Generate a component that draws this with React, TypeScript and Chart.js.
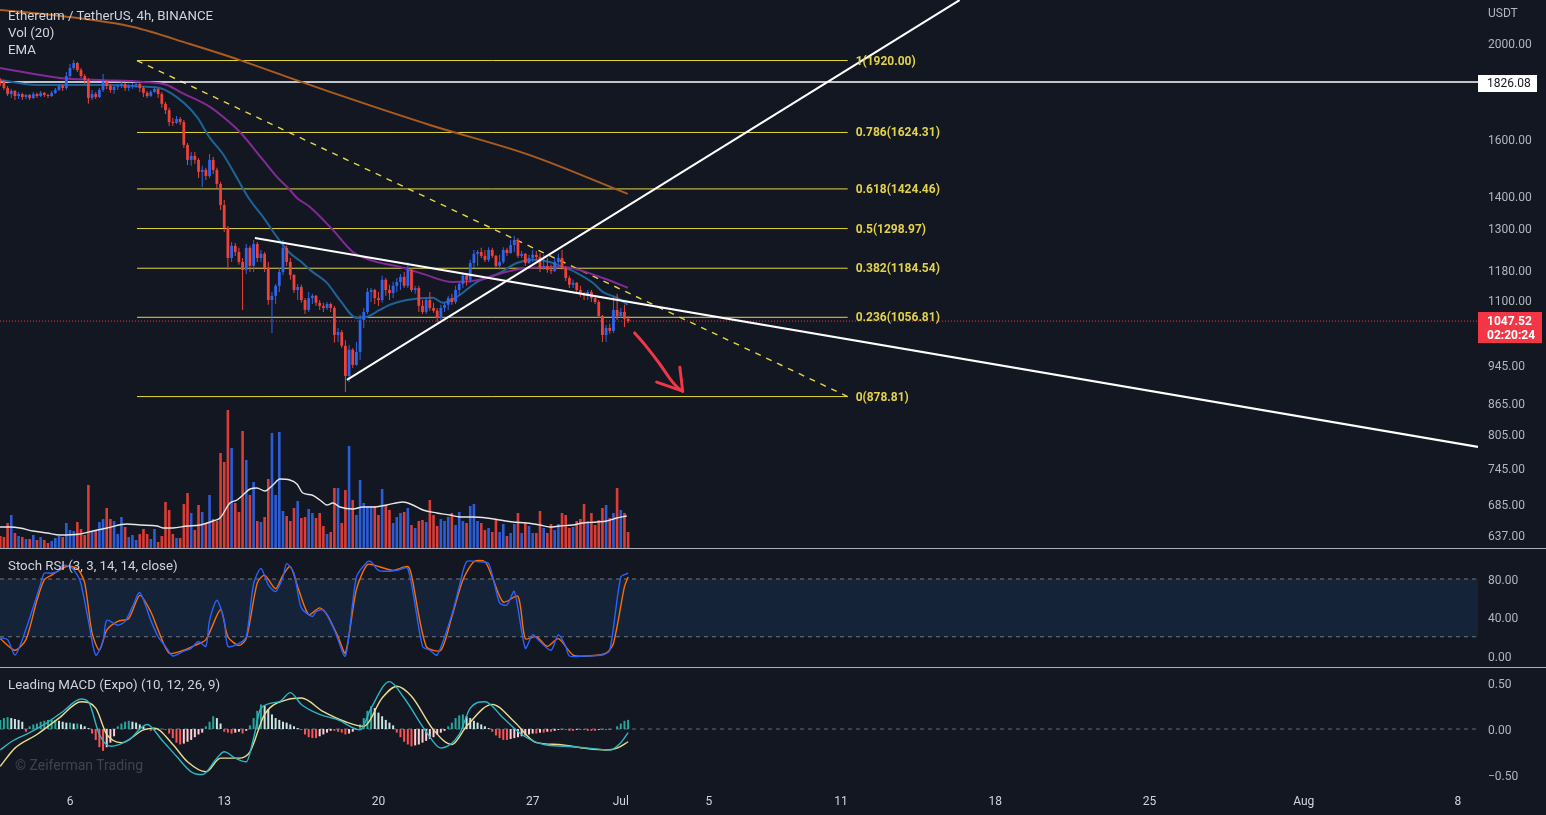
import React, { useEffect, useRef } from 'react';
import { Chart, registerables } from 'chart.js';

Chart.register(...registerables);

// ---------------- style ----------------
const FONT = 'Roboto, "Noto Sans", "DejaVu Sans", sans-serif';
const BG = '#131722';
const TEXT = '#d1d4dc';
const AXIS_TEXT = '#b2b5be';
const UP = '#2f65ea';
const DOWN = '#ef4137';
const UP_VOL = 'rgba(47,101,234,0.9)';
const DOWN_VOL = 'rgba(239,65,55,0.9)';
const FIB_LINE = 'rgba(240,226,70,0.95)';
const FIB_TEXT = '#e2d24b';
const SEP = 'rgba(209,212,220,0.8)';
const AXIS_W = 68;

// ---------------- data ----------------
// time axis in "day of June" (Jul 1 = 31, Aug 1 = 62)
const X_MIN = 2.822;
const X_MAX = 69.91;
const X_TICKS = [6, 13, 20, 27, 31, 35, 41, 48, 55, 62, 69];
const X_TICK_LABELS = ['6', '13', '20', '27', 'Jul', '5', '11', '18', '25', 'Aug', '8'];

const PRICE_MIN = 617.98;
const PRICE_MAX = 2210.3;
const PRICE_TICKS = [637, 685, 745, 805, 865, 945, 1100, 1180, 1300, 1400, 1600, 2000];
const STOCH_MIN = -11.43;
const STOCH_MAX = 111.17;
const STOCH_TICKS = [0, 40, 80];
const MACD_MIN = -0.626;
const MACD_MAX = 0.67;
const MACD_TICKS = [-0.5, 0, 0.5];
const VOL_MAX = 1644;

const FIRST_CANDLE_DAY = 2 + 20 / 24; // Jun 2, 20:00
const CANDLE_HOURS = 4;
const FIRST_OPEN = 1835;

const CLOSES = [
  1827, 1801, 1776, 1789, 1768, 1776, 1764, 1772, 1760, 1776,
  1768, 1781, 1772, 1768, 1781, 1793, 1810, 1801, 1852, 1887,
  1909, 1878, 1852, 1835, 1760, 1776, 1764, 1793, 1827, 1810,
  1793, 1806, 1810, 1818, 1801, 1810, 1814, 1818, 1801, 1781,
  1768, 1785, 1797, 1776, 1736, 1711, 1664, 1661, 1676, 1664,
  1578, 1524, 1538, 1524, 1482, 1489, 1468, 1524, 1489, 1441,
  1372, 1301, 1213, 1248, 1230, 1202, 1180, 1242, 1191, 1253,
  1213, 1225, 1185, 1100, 1111, 1137, 1174, 1242, 1202, 1166,
  1126, 1134, 1100, 1075, 1105, 1111, 1093, 1085, 1080, 1090,
  1080, 1014, 1021, 989, 922, 980, 946, 975, 1050, 1070,
  1121, 1126, 1105, 1100, 1153, 1126, 1118, 1137, 1147, 1161,
  1137, 1180, 1126, 1131, 1085, 1070, 1100, 1080, 1073, 1055,
  1080, 1088, 1105, 1095, 1126, 1142, 1164, 1153, 1199, 1225,
  1230, 1219, 1208, 1236, 1219, 1191, 1202, 1236, 1227, 1250,
  1265, 1219, 1225, 1199, 1213, 1222, 1216, 1185, 1191, 1180,
  1177, 1202, 1213, 1185, 1158, 1140, 1145, 1126, 1116, 1111,
  1121, 1105, 1095, 1060, 1014, 1031, 1024, 1075, 1060, 1070,
  1053, 1047.52,
];
const HIGHS = [
  1844, 1835, 1810, 1797, 1793, 1785, 1781, 1776, 1776, 1785,
  1781, 1789, 1785, 1776, 1789, 1801, 1818, 1818, 1870, 1905,
  1922, 1914, 1887, 1861, 1844, 1793, 1785, 1801, 1861, 1835,
  1818, 1814, 1818, 1827, 1822, 1818, 1822, 1827, 1822, 1810,
  1789, 1793, 1806, 1801, 1785, 1744, 1720, 1680, 1688, 1684,
  1672, 1585, 1552, 1552, 1531, 1503, 1496, 1545, 1534, 1496,
  1448, 1388, 1307, 1259, 1256, 1242, 1213, 1253, 1248, 1265,
  1259, 1236, 1230, 1202, 1121, 1142, 1185, 1265, 1248, 1213,
  1169, 1142, 1140, 1105, 1121, 1116, 1113, 1100, 1093, 1095,
  1093, 1085, 1031, 1026, 1002, 991, 984, 998, 1063, 1080,
  1131, 1131, 1129, 1121, 1164, 1158, 1140, 1148, 1158, 1169,
  1174, 1202, 1185, 1137, 1137, 1100, 1105, 1121, 1093, 1080,
  1088, 1095, 1111, 1116, 1137, 1147, 1169, 1169, 1208, 1236,
  1236, 1242, 1236, 1244, 1242, 1222, 1222, 1244, 1242, 1265,
  1277, 1271, 1233, 1227, 1222, 1236, 1233, 1227, 1222, 1213,
  1194, 1213, 1225, 1236, 1191, 1164, 1153, 1147, 1137, 1121,
  1126, 1126, 1111, 1100, 1063, 1038, 1041, 1111, 1116, 1080,
  1088, 1060,
];
const LOWS = [
  1810, 1793, 1768, 1760, 1752, 1756, 1752, 1756, 1752, 1756,
  1760, 1764, 1764, 1760, 1764, 1776, 1789, 1789, 1793, 1844,
  1878, 1870, 1844, 1818, 1736, 1752, 1756, 1760, 1785, 1797,
  1781, 1776, 1793, 1801, 1789, 1789, 1797, 1801, 1785, 1764,
  1760, 1764, 1781, 1760, 1720, 1696, 1649, 1649, 1657, 1653,
  1567, 1506, 1503, 1510, 1461, 1431, 1454, 1461, 1475, 1427,
  1356, 1289, 1180, 1202, 1219, 1194, 1075, 1169, 1174, 1174,
  1202, 1202, 1174, 1088, 1019, 1090, 1121, 1166, 1191, 1153,
  1118, 1100, 1093, 1065, 1070, 1090, 1085, 1075, 1070, 1075,
  1070, 996, 998, 984, 888, 909, 939, 944, 957, 1031,
  1065, 1095, 1090, 1085, 1093, 1111, 1100, 1105, 1121, 1126,
  1131, 1131, 1121, 1116, 1070, 1065, 1065, 1073, 1068, 1045,
  1050, 1070, 1075, 1088, 1090, 1111, 1131, 1137, 1145, 1185,
  1191, 1213, 1202, 1202, 1213, 1185, 1180, 1197, 1219, 1225,
  1230, 1213, 1213, 1191, 1197, 1202, 1208, 1174, 1180, 1172,
  1169, 1174, 1197, 1180, 1150, 1131, 1131, 1116, 1108, 1100,
  1100, 1095, 1090, 1055, 998, 998, 1017, 1019, 1050, 1055,
  1033, 1043,
];
// volume, thousand ETH
const VOLUMES = [
  36, 33, 75, 99, 45, 36, 33, 27, 27, 39,
  24, 33, 24, 15, 21, 30, 36, 33, 75, 54,
  51, 78, 57, 39, 189, 51, 54, 78, 87, 120,
  87, 81, 42, 93, 63, 33, 39, 24, 42, 57,
  42, 27, 57, 18, 36, 138, 114, 42, 30, 30,
  132, 165, 105, 54, 129, 108, 75, 159, 87, 81,
  285, 258, 414, 300, 135, 108, 351, 264, 159, 198,
  81, 78, 93, 207, 345, 159, 348, 111, 96, 81,
  120, 141, 90, 93, 117, 105, 90, 105, 66, 42,
  48, 180, 180, 75, 174, 306, 144, 99, 204, 135,
  126, 126, 126, 99, 177, 129, 114, 75, 93, 105,
  108, 120, 69, 60, 81, 84, 78, 144, 99, 66,
  87, 81, 93, 105, 69, 108, 81, 75, 126, 132,
  81, 75, 54, 60, 48, 84, 48, 72, 36, 45,
  72, 105, 45, 75, 66, 45, 45, 111, 60, 45,
  72, 54, 72, 105, 99, 60, 63, 81, 87, 132,
  81, 105, 69, 84, 120, 129, 90, 105, 180, 114,
  105, 48,
];
const VOL_MA_DAYS = [
  2.82, 3.28, 3.73, 4.32, 4.96, 5.55, 6.45, 7.04, 7.68, 8.59, 9.18, 9.95, 10.22, 10.67, 11.31,
  11.9, 12.49, 12.81, 13.26, 13.58, 13.85, 14.17, 14.48, 14.85, 15.21, 15.53, 15.98, 16.3, 16.57,
  16.98, 17.34, 17.66, 17.93, 18.25, 18.84, 19.29, 19.75, 20.38, 21.11, 21.56, 22.02, 22.65, 23.24,
  23.7, 24.28, 24.92, 25.51, 26.1, 26.73, 27.32, 27.78, 28.23, 28.82, 29.28, 29.91, 30.36, 30.82, 31.27,
];
const VOL_MA = [
  63, 63, 60, 51, 45, 39, 42, 51, 60, 72, 69, 66, 60, 60, 66,
  69, 81, 90, 135, 144, 159, 177, 180, 171, 189, 207, 204, 192, 165,
  159, 144, 129, 135, 123, 117, 123, 123, 129, 138, 129, 114, 105, 99,
  93, 93, 90, 84, 78, 75, 69, 63, 66, 69, 75, 78, 81, 90, 96,
];

const EMA_FAST_DAYS = [
  2.82, 4.49, 6.16, 7.82, 9.49, 10.08, 11.17, 11.76, 12.35, 12.94, 13.58, 14.17, 14.76, 15.39, 15.98,
  16.44, 16.89, 17.66, 18.25, 19.02, 19.48, 20.06, 20.52, 21.29, 22.47, 22.92, 23.56, 24.47, 25.51,
  26.28, 27.01, 27.78, 28.37, 29.0, 29.73, 30.18, 30.82, 31.32,
];
const EMA_FAST = [
  1835, 1814, 1814, 1814, 1806, 1801, 1740, 1684, 1604, 1545, 1461, 1388, 1335, 1274, 1227,
  1205, 1180, 1145, 1100, 1055, 1058, 1075, 1088, 1100, 1106, 1093, 1108, 1147, 1172,
  1199, 1208, 1202, 1188, 1172, 1145, 1121, 1106, 1088,
];
const EMA_MID_DAYS = [
  2.82, 5.55, 7.36, 9.31, 10.4, 10.99, 12.35, 13.12, 13.71, 14.76, 15.39, 15.98, 16.3, 16.89,
  17.93, 18.84, 19.75, 20.97, 22.02, 23.38, 24.6, 25.82, 26.87, 28.37, 30.18, 31.32,
];
const EMA_MID = [
  1887, 1844, 1835, 1827, 1814, 1785, 1724, 1672, 1626, 1524, 1465, 1421, 1395, 1366,
  1295, 1230, 1205, 1188, 1169, 1147, 1153, 1175, 1186, 1188, 1158, 1132,
];
const EMA_SLOW_DAYS = [2.82, 5.55, 8.86, 11.44, 13.71, 15.98, 17.8, 22.33, 26.87, 31.32];
const EMA_SLOW = [2160, 2130, 2076, 1995, 1922, 1844, 1785, 1653, 1541, 1408];

const FIB_RATIOS = ['1', '0.786', '0.618', '0.5', '0.382', '0.236', '0'];
const FIB_LEVELS = [1920.0, 1624.31, 1424.46, 1298.97, 1184.54, 1056.81, 878.81];
const FIB_START_DAY = 9.04;
const FIB_END_DAY = 41.3;
const FIB_LABEL_DAY = 41.66;

const DIAG_DAYS = [9.04, 41.3];
const DIAG_PRICES = [1920, 878.81];
const TREND_UP_DAYS = [18.57, 46.38];
const TREND_UP_PRICES = [913.5, 2210];
const TREND_DOWN_DAYS = [14.39, 69.91];
const TREND_DOWN_PRICES = [1271, 781.8];

const ARROW_DAYS = [31.63, 32.18, 32.77, 33.22, 33.59, 33.81];
const ARROW_PRICES = [1019, 986, 948, 917, 897, 890];
const ARROW_HEAD_L_DAYS = [32.63, 33.81];
const ARROW_HEAD_L_PRICES = [909, 890];
const ARROW_HEAD_R_DAYS = [33.68, 33.81];
const ARROW_HEAD_R_PRICES = [941, 890];

const MARK_PRICE = 1826.08;
const LAST_PRICE = 1047.52;
const COUNTDOWN = '02:20:24';

// Stoch RSI (candle index, value)
const STOCH_K_IDX = [
  0, 2, 4, 6, 9, 11, 12, 14, 16, 17, 19, 21, 22, 24, 26, 28, 29, 32, 34, 36, 38, 41, 43, 45, 47,
  50, 52, 54, 56, 57, 59, 61, 62, 65, 67, 69, 71, 73, 75, 77, 78, 80, 82, 85, 86, 88, 91, 94, 97, 100,
  101, 103, 106, 108, 111, 115, 117, 119, 123, 125, 127, 130, 133, 136, 138, 140, 143, 145, 147, 150,
  152, 154, 155, 159, 164, 166, 169, 171,
];
const STOCH_K = [
  19, 17, 1, 17, 51, 75, 86, 86, 89, 94, 93, 84, 75, 37, 1, 15, 37, 32, 36, 51, 66, 37, 20, 10, 0,
  5, 8, 15, 10, 37, 58, 37, 10, 13, 20, 75, 91, 74, 67, 82, 96, 86, 50, 41, 46, 48, 27, 0, 82, 98,
  98, 89, 88, 89, 91, 10, 6, 1, 43, 72, 98, 98, 96, 55, 53, 67, 8, 22, 15, 6,
  22, 10, 0, 0, 1, 6, 82, 86,
];
const STOCH_D_IDX = [
  0, 4, 7, 10, 12, 14, 18, 21, 23, 25, 27, 29, 32, 35, 38, 41, 43, 46, 50, 53, 56, 60, 62, 65, 67,
  70, 72, 75, 77, 79, 81, 84, 87, 89, 92, 94, 97, 100, 103, 107, 111, 112, 116, 120, 123, 126, 129,
  132, 134, 137, 141, 143, 146, 149, 152, 156, 160, 165, 167, 170, 171,
];
const STOCH_D = [
  18, 6, 17, 58, 79, 84, 93, 91, 76, 24, 6, 27, 36, 39, 63, 46, 27, 3, 6, 11, 17, 48, 20, 11, 18,
  76, 84, 70, 84, 93, 72, 43, 50, 43, 20, 3, 69, 95, 93, 89, 93, 84, 10, 6, 41, 79, 98,
  98, 82, 56, 62, 18, 20, 10, 18, 1, 0, 3, 13, 72, 82,
];

// Leading MACD
const MACD_HIST = [
  0.1, 0.12, 0.13, 0.12, 0.11, 0.1, 0.08,
  -0.03,
  0.03, 0.05, 0.06, 0.08,
  0.09, 0.1, 0.1, 0.1, 0.09,
  0.08, 0.07, 0.07, 0.06, 0.06, 0.05,
  0.03, 0.01,
  -0.05, -0.12, -0.2, -0.24, -0.2, -0.15, -0.08,
  0.03, 0.06, 0.08, 0.09, 0.08, 0.07, 0.05, 0.03,
  -0.01, -0.02, -0.01, 0.01, 0.0, -0.01,
  -0.05, -0.1, -0.15, -0.17, -0.16, -0.14, -0.12, -0.09, -0.06, -0.04,
  0.03, 0.08, 0.14, 0.12, 0.06,
  -0.03, -0.04,
  -0.05, -0.04, -0.03, -0.05, -0.02,
  0.04, 0.12, 0.2, 0.27, 0.26, 0.22,
  0.16, 0.12, 0.1, 0.08, 0.07, 0.05, 0.03,
  0.01, -0.01,
  -0.06, -0.09, -0.1, -0.1, -0.08, -0.06, -0.04,
  -0.02, -0.02, -0.03, -0.04, -0.06, -0.05, -0.03, -0.01,
  0.05, 0.12, 0.2, 0.25, 0.23, 0.18,
  0.14, 0.1, 0.07, 0.04,
  -0.04, -0.09, -0.14, -0.17, -0.19, -0.18, -0.17, -0.15, -0.13, -0.11, -0.09, -0.06, -0.04, -0.02,
  0.03, 0.07, 0.12, 0.15, 0.16, 0.14, 0.12, 0.09, 0.07, 0.05, 0.03, 0.01,
  -0.03, -0.07, -0.1, -0.12, -0.12, -0.11, -0.1, -0.09, -0.08, -0.07, -0.06, -0.05, -0.05, -0.04, -0.04, -0.03, -0.03, -0.02,
  -0.01, -0.01, -0.01, -0.02, -0.02, -0.01, -0.01, -0.01, -0.02, -0.02, -0.02, -0.01, -0.01, -0.01, -0.01, 0.0,
  0.03, 0.06, 0.09, 0.1,
];
const MACD_IDX = [
  0, 3, 8, 12, 17, 22, 24, 27, 30, 35, 40, 44, 48, 52, 55, 59, 61, 64, 67, 69, 71, 76, 79, 82, 87,
  92, 98, 101, 106, 110, 116, 120, 125, 128, 132, 137, 142, 148, 154, 160, 166, 169, 171,
];
const MACD_LINE = [
  -0.23, -0.14, -0.04, 0.05, 0.19, 0.33, 0.3, -0.06, -0.19, -0.12, 0.05, -0.12, -0.3, -0.47, -0.5,
  -0.32, -0.25, -0.32, -0.36, -0.1, 0.23, 0.3, 0.4, 0.27, 0.16, 0.1, -0.01, 0.23, 0.52, 0.34,
  -0.03, -0.21, -0.06, 0.23, 0.3, 0.12, -0.06, -0.17, -0.19, -0.21, -0.23, -0.15, -0.04,
];
const SIGNAL_IDX = [
  0, 4, 10, 16, 22, 26, 29, 33, 39, 42, 47, 51, 56, 60, 65, 68, 72, 78, 82, 88, 94, 99, 104, 108,
  112, 118, 123, 127, 134, 140, 146, 152, 159, 165, 168, 171,
];
const SIGNAL_LINE = [
  -0.41, -0.21, -0.06, 0.12, 0.3, 0.23, -0.06, -0.15, -0.01, 0.01, -0.17, -0.36, -0.47, -0.32,
  -0.32, -0.25, 0.16, 0.32, 0.34, 0.19, 0.08, 0.03, 0.34, 0.47, 0.36, -0.01, -0.17, 0.03, 0.27,
  0.08, -0.15, -0.17, -0.21, -0.23, -0.21, -0.14,
];

// ---------------- helpers ----------------
const dayOfCandle = (k: number) => FIRST_CANDLE_DAY + (k * CANDLE_HOURS) / 24;
const pts = (xs: number[], ys: number[]) => xs.map((x, i) => ({ x, y: ys[i] }));
const idxPts = (idx: number[], ys: number[]) => idx.map((k, i) => ({ x: dayOfCandle(k), y: ys[i] }));
const OPENS = CLOSES.map((c, k) => (k === 0 ? FIRST_OPEN : CLOSES[k - 1]));
const IS_UP = CLOSES.map((c, k) => c >= OPENS[k]);

const fmt2 = (v: number) => (v < 0 ? '\u2212' + Math.abs(v).toFixed(2) : v.toFixed(2));

function rightAxis(type: string, min: number, max: number, tickValues: number[]) {
  return {
    type,
    position: 'right',
    min,
    max,
    bounds: 'data',
    grid: { display: false, drawTicks: false },
    border: { display: false },
    afterBuildTicks: (s: any) => {
      s.ticks = tickValues.map((v) => ({ value: v }));
    },
    afterFit: (s: any) => {
      s.width = AXIS_W;
      s.paddingTop = 0;
      s.paddingBottom = 0;
    },
    ticks: {
      color: AXIS_TEXT,
      font: { family: FONT, size: 12 },
      padding: 10,
      labelOffset: 2,
      autoSkip: false,
      callback: (v: any) => fmt2(Number(v)),
    },
  };
}

const hiddenX = { type: 'linear', min: X_MIN, max: X_MAX, bounds: 'data', offset: false, display: false };

const baseOptions = {
  responsive: false,
  animation: false,
  events: [] as any[],
  layout: { padding: 0 },
  plugins: { legend: { display: false }, tooltip: { enabled: false } },
};

function lineDs(data: any[], color: string, width: number, extra: any = {}) {
  return {
    type: 'line',
    data,
    borderColor: color,
    borderWidth: width,
    pointRadius: 0,
    pointHoverRadius: 0,
    fill: false,
    tension: 0,
    ...extra,
  };
}

const mainOverlay = {
  id: 'mainOverlay',
  afterDraw(chart: any) {
    const { ctx, chartArea } = chart;
    const xs = chart.scales.x;
    const ys = chart.scales.y;
    ctx.save();
    ctx.textAlign = 'left';
    ctx.textBaseline = 'middle';
    ctx.font = `bold 12px ${FONT}`;
    ctx.fillStyle = FIB_TEXT;
    const lx = xs.getPixelForValue(FIB_LABEL_DAY);
    FIB_LEVELS.forEach((lv, i) => {
      ctx.fillText(`${FIB_RATIOS[i]}(${lv.toFixed(2)})`, lx, ys.getPixelForValue(lv) + 1);
    });
    const ax = chartArea.right;
    ctx.font = `12px ${FONT}`;
    ctx.fillStyle = AXIS_TEXT;
    ctx.fillText('USDT', ax + 10, 14);

    let py = ys.getPixelForValue(MARK_PRICE);
    ctx.fillStyle = '#ffffff';
    ctx.fillRect(ax, Math.round(py) - 7, 59, 17);
    ctx.fillStyle = BG;
    ctx.fillText(MARK_PRICE.toFixed(2), ax + 9, py + 2);

    py = ys.getPixelForValue(LAST_PRICE);
    ctx.fillStyle = '#f23645';
    ctx.fillRect(ax, Math.round(py) - 9, 64, 31);
    ctx.fillStyle = '#ffffff';
    ctx.font = `bold 12px ${FONT}`;
    ctx.fillText(LAST_PRICE.toFixed(2), ax + 9, py + 1);
    ctx.fillText(COUNTDOWN, ax + 9, py + 15);
    ctx.restore();
  },
};

function mainConfig(): any {
  const datasets: any[] = [];
  datasets.push({
    type: 'bar',
    data: VOLUMES.map((v, k) => ({ x: dayOfCandle(k), y: v })),
    yAxisID: 'yVol',
    backgroundColor: IS_UP.map((u) => (u ? UP_VOL : DOWN_VOL)),
    barThickness: 2.6,
    inflateAmount: 0,
    borderWidth: 0,
    grouped: false,
    order: 20,
  });
  datasets.push(lineDs(pts(VOL_MA_DAYS, VOL_MA), '#e6e6e6', 1.4, { yAxisID: 'yVol', order: 19, cubicInterpolationMode: 'monotone' }));
  FIB_LEVELS.forEach((lv) => {
    datasets.push(lineDs(pts([FIB_START_DAY, FIB_END_DAY], [lv, lv]), FIB_LINE, 1, { yAxisID: 'y', order: 15 }));
  });
  datasets.push(lineDs(pts(DIAG_DAYS, DIAG_PRICES), FIB_LINE, 1.4, { yAxisID: 'y', order: 14, borderDash: [6, 6] }));
  datasets.push(lineDs(pts([X_MIN, X_MAX], [MARK_PRICE, MARK_PRICE]), '#ffffff', 1.5, { yAxisID: 'y', order: 13 }));
  datasets.push(lineDs(pts([X_MIN, X_MAX], [LAST_PRICE, LAST_PRICE]), '#f23645', 1, { yAxisID: 'y', order: 13, borderDash: [1, 2] }));
  datasets.push(lineDs(pts(EMA_SLOW_DAYS, EMA_SLOW), '#a95c20', 2, { yAxisID: 'y', order: 10, cubicInterpolationMode: 'monotone' }));
  datasets.push(lineDs(pts(EMA_MID_DAYS, EMA_MID), '#842a97', 2, { yAxisID: 'y', order: 10, cubicInterpolationMode: 'monotone' }));
  datasets.push(lineDs(pts(EMA_FAST_DAYS, EMA_FAST), '#1d6396', 2, { yAxisID: 'y', order: 10, cubicInterpolationMode: 'monotone' }));
  datasets.push({
    type: 'bar',
    data: CLOSES.map((c, k) => ({ x: dayOfCandle(k), y: [LOWS[k], HIGHS[k]] })),
    yAxisID: 'y',
    backgroundColor: IS_UP.map((u) => (u ? UP : DOWN)),
    barThickness: 1,
    inflateAmount: 0,
    borderWidth: 0,
    grouped: false,
    order: 6,
  });
  datasets.push({
    type: 'bar',
    data: CLOSES.map((c, k) => ({ x: dayOfCandle(k), y: [OPENS[k], c] })),
    yAxisID: 'y',
    backgroundColor: IS_UP.map((u) => (u ? UP : DOWN)),
    barThickness: 2.8,
    minBarLength: 1,
    inflateAmount: 0,
    borderWidth: 0,
    grouped: false,
    order: 5,
  });
  datasets.push(lineDs(pts(TREND_UP_DAYS, TREND_UP_PRICES), '#ffffff', 2, { yAxisID: 'y', order: 2 }));
  datasets.push(lineDs(pts(TREND_DOWN_DAYS, TREND_DOWN_PRICES), '#ffffff', 2, { yAxisID: 'y', order: 2 }));
  const arrowOpts = { yAxisID: 'y', order: 1, borderCapStyle: 'round', borderJoinStyle: 'round' };
  datasets.push(lineDs(pts(ARROW_DAYS, ARROW_PRICES), '#f23645', 3, { ...arrowOpts, cubicInterpolationMode: 'monotone' }));
  datasets.push(lineDs(pts(ARROW_HEAD_L_DAYS, ARROW_HEAD_L_PRICES), '#f23645', 3, arrowOpts));
  datasets.push(lineDs(pts(ARROW_HEAD_R_DAYS, ARROW_HEAD_R_PRICES), '#f23645', 3, arrowOpts));

  return {
    type: 'bar',
    data: { datasets },
    options: {
      ...baseOptions,
      scales: {
        x: hiddenX,
        y: rightAxis('logarithmic', PRICE_MIN, PRICE_MAX, PRICE_TICKS),
        yVol: { type: 'linear', display: false, min: 0, max: VOL_MAX, position: 'left' },
      },
    },
    plugins: [mainOverlay],
  };
}

function stochConfig(): any {
  return {
    type: 'line',
    data: {
      datasets: [
        lineDs(pts([X_MIN, X_MAX], [80, 80]), 'rgba(140,143,152,0.8)', 1, {
          borderDash: [4, 4],
          fill: { value: 20 },
          backgroundColor: 'rgba(33,150,243,0.1)',
          order: 5,
        }),
        lineDs(pts([X_MIN, X_MAX], [20, 20]), 'rgba(140,143,152,0.8)', 1, { borderDash: [4, 4], order: 5 }),
        lineDs(idxPts(STOCH_D_IDX, STOCH_D), '#ff6d00', 1.4, { tension: 0.25, order: 2 }),
        lineDs(idxPts(STOCH_K_IDX, STOCH_K), '#2962ff', 1.4, { tension: 0.25, order: 1 }),
      ],
    },
    options: {
      ...baseOptions,
      scales: {
        x: hiddenX,
        y: rightAxis('linear', STOCH_MIN, STOCH_MAX, STOCH_TICKS),
      },
    },
  };
}

function macdConfig(): any {
  const histColors = MACD_HIST.map((v, k) => {
    const prev = k === 0 ? v : MACD_HIST[k - 1];
    if (v >= 0) return v >= prev ? '#26a69a' : '#c8e6e2';
    return v <= prev ? '#ff5252' : '#ffcdd2';
  });
  return {
    type: 'bar',
    data: {
      datasets: [
        lineDs(pts([X_MIN, X_MAX], [0, 0]), 'rgba(140,143,152,0.7)', 1, { borderDash: [4, 4], order: 6 }),
        {
          type: 'bar',
          data: MACD_HIST.map((v, k) => ({ x: dayOfCandle(k), y: v })),
          backgroundColor: histColors,
          barThickness: 2,
          inflateAmount: 0,
          borderWidth: 0,
          grouped: false,
          order: 5,
        },
        lineDs(idxPts(SIGNAL_IDX, SIGNAL_LINE), '#eadc8f', 1.4, { cubicInterpolationMode: 'monotone', order: 2 }),
        lineDs(idxPts(MACD_IDX, MACD_LINE), '#2bb6c4', 1.4, { cubicInterpolationMode: 'monotone', order: 1 }),
      ],
    },
    options: {
      ...baseOptions,
      scales: {
        x: {
          type: 'linear',
          min: X_MIN,
          max: X_MAX,
          bounds: 'data',
          offset: false,
          grid: { display: false, drawTicks: false },
          border: { display: false },
          afterBuildTicks: (s: any) => {
            s.ticks = X_TICKS.map((v) => ({ value: v }));
          },
          afterFit: (s: any) => {
            s.height = 29;
            s.paddingLeft = 0;
            s.paddingRight = 0;
          },
          ticks: {
            autoSkip: false,
            maxRotation: 0,
            color: TEXT,
            font: { family: FONT, size: 12 },
            padding: 9,
            callback: (_v: any, i: number) => X_TICK_LABELS[i],
          },
        },
        y: rightAxis('linear', MACD_MIN, MACD_MAX, MACD_TICKS),
      },
    },
  };
}

function Legend({ text, top, left = 8, size = 13, color = TEXT }: any) {
  return (
    <div
      style={{
        position: 'absolute',
        left,
        top,
        fontSize: size,
        lineHeight: '18px',
        color,
        whiteSpace: 'nowrap',
        pointerEvents: 'none',
        fontFamily: FONT,
      }}
    >
      {text}
    </div>
  );
}

export default function App() {
  const mainRef = useRef<HTMLCanvasElement>(null);
  const stochRef = useRef<HTMLCanvasElement>(null);
  const macdRef = useRef<HTMLCanvasElement>(null);

  useEffect(() => {
    const charts: Chart[] = [];
    if (mainRef.current) charts.push(new Chart(mainRef.current, mainConfig()));
    if (stochRef.current) charts.push(new Chart(stochRef.current, stochConfig()));
    if (macdRef.current) charts.push(new Chart(macdRef.current, macdConfig()));
    return () => charts.forEach((c) => c.destroy());
  }, []);

  return (
    <div
      style={{
        position: 'absolute',
        left: 0,
        top: 0,
        width: 1546,
        height: 815,
        background: BG,
        overflow: 'hidden',
      }}
    >
      <canvas ref={mainRef} width={1546} height={548} style={{ position: 'absolute', left: 0, top: 0 }} />
      <div style={{ position: 'absolute', left: 0, top: 548, width: 1546, height: 1, background: SEP }} />
      <canvas ref={stochRef} width={1546} height={118} style={{ position: 'absolute', left: 0, top: 549 }} />
      <div style={{ position: 'absolute', left: 0, top: 667, width: 1546, height: 1, background: SEP }} />
      <canvas ref={macdRef} width={1546} height={147} style={{ position: 'absolute', left: 0, top: 668 }} />

      <Legend text="Ethereum / TetherUS, 4h, BINANCE" top={7} size={13.3} />
      <Legend text="Vol (20)" top={24} size={13.3} />
      <Legend text="EMA" top={41} size={13.3} />
      <Legend text="Stoch RSI (3, 3, 14, 14, close)" top={557} size={13.3} />
      <Legend text="Leading MACD (Expo) (10, 12, 26, 9)" top={676} size={13.3} />
      <Legend text="© Zeiferman Trading" top={756} left={15} size={14} color="rgba(120,123,134,0.45)" />
    </div>
  );
}
